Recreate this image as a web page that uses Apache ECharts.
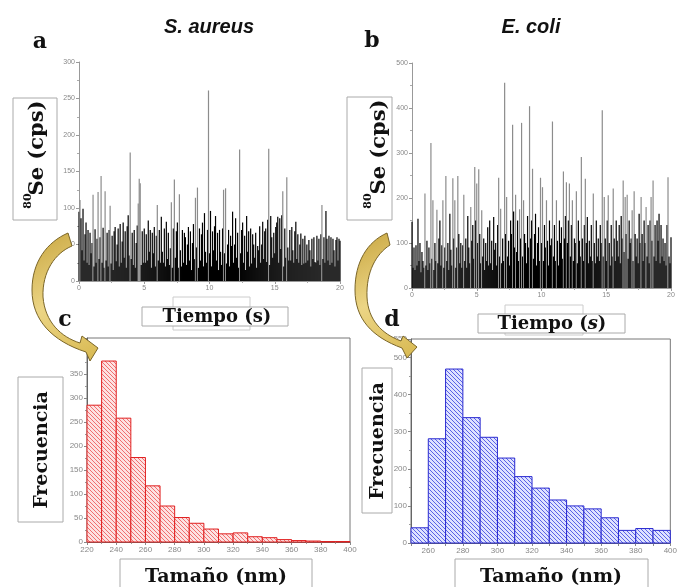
<!DOCTYPE html>
<html><head><meta charset="utf-8">
<script src="https://cdn.jsdelivr.net/npm/echarts@6/dist/echarts.min.js"></script>
<style>html,body{margin:0;padding:0;background:#fff}#c{width:680px;height:587px}</style>
</head><body><div id="c"></div>
<script>
// ---- data ----
const samplesPerSecond = 13;
const seAureus = [
95,111,86,42,99,28,64,80,25,70,22,66,38,
52,118,20,71,25,58,122,30,60,144,25,73,18,
123,28,66,20,70,103,24,62,15,68,74,27,50,
72,20,78,25,54,80,32,68,18,75,90,35,176,
30,66,22,70,18,52,76,106,140,134,22,68,25,
72,25,64,28,83,40,70,18,66,38,74,20,62,
104,28,70,25,88,40,25,72,20,81,30,66,22,
45,108,18,72,139,32,68,80,18,119,42,20,70,
25,66,60,22,50,74,28,68,15,52,78,30,114,
46,128,18,72,28,64,80,20,93,40,25,70,261,
38,96,20,68,42,75,89,28,66,15,70,40,22,
72,125,38,127,24,50,70,20,62,48,95,25,50,
86,32,66,18,180,38,70,80,25,62,15,89,40,
68,20,72,24,64,50,32,66,18,48,42,75,25,
50,81,30,68,72,26,84,181,22,89,60,32,66,
38,74,80,88,25,86,44,90,123,20,72,32,142,
46,28,70,28,74,42,25,68,81,30,64,25,50,
65,22,58,24,62,25,50,28,56,42,20,58,30,
60,26,25,62,28,58,22,64,104,30,60,25,96,
58,28,62,22,60,25,58,42,20,56,60,28,58,
55];
const seColi = [
147,45,90,40,95,50,154,60,100,35,80,60,45,
210,50,105,40,90,55,322,65,195,40,100,60,174,
55,110,150,50,95,195,45,90,249,60,100,40,165,
85,50,244,110,195,45,90,249,120,55,100,45,95,
207,60,110,45,160,90,55,180,105,140,65,269,150,
232,100,264,120,55,173,70,110,40,100,60,135,50,
150,55,105,40,158,85,100,50,140,245,70,176,55,
110,60,456,120,202,70,105,50,150,120,363,170,90,
207,80,150,60,175,110,367,70,195,120,100,55,160,
90,404,110,150,265,65,120,165,50,100,135,60,245,
100,224,60,140,90,195,105,50,150,95,110,370,70,
140,60,195,105,50,150,100,135,65,259,110,160,235,
100,150,232,70,140,195,60,110,100,215,55,150,105,
70,291,110,60,140,243,100,158,55,105,70,140,60,
210,100,55,150,70,110,60,140,100,395,70,202,110,
60,150,206,100,50,140,70,221,110,60,150,105,70,
140,55,160,110,239,80,202,120,207,65,150,100,110,
173,60,215,120,70,110,55,165,100,202,120,60,150,
100,180,70,140,55,150,202,105,239,70,140,60,150,
105,165,55,140,70,110,60,100,50,140,246,70,55,
113];
const binWidth = 10;
const binsAureus = [220,230,240,250,260,270,280,290,300,310,320,330,340,350,360,370,380,390];
const freqAureus = [285,377,258,176,117,75,51,39,27,17,19,11,9,5,3,2,1,1];
const binsColi = [250,260,270,280,290,300,310,320,330,340,350,360,370,380,390];
const freqColi = [41,281,469,338,285,229,179,148,116,100,92,68,34,39,34];
const panelTitles = ['S. aureus','E. coli'];
const panelLetters = ['a','b','c','d'];

// ---- helpers ----
const serif = '"DejaVu Serif","Liberation Serif",serif';
const sans = '"Liberation Sans","DejaVu Sans",sans-serif';
// tall isolated spikes are drawn grey (thin antialiased lines in the original), the rest black
function pts(vals, spike){ return vals.map((v,i)=>({value:[i/samplesPerSecond, v], itemStyle:{color: v>spike ? '#8c8c8c' : '#000'}})); }
function hatch(bg, fg){
  const c=document.createElement('canvas'); c.width=4; c.height=4;
  const g=c.getContext('2d'); g.fillStyle=bg; g.fillRect(0,0,4,4);
  g.strokeStyle=fg; g.lineWidth=1; g.beginPath();
  g.moveTo(0,0); g.lineTo(4,4); g.moveTo(-2,2); g.lineTo(2,6); g.moveTo(2,-2); g.lineTo(6,2);
  g.stroke(); return c;
}
const redHatch = hatch('#fde2e2','#f07070');
const blueHatch = hatch('#dfe2ff','#5a64e6');
const lblStyle = {color:'#888', fontSize:7, fontFamily:sans, margin:4};
const axLine = {lineStyle:{color:'#999', width:1}};
function histRender(pattern, stroke){
  return function(params, api){
    const x0=api.value(0), v=api.value(1);
    const p0=api.coord([x0,v]), p1=api.coord([x0+binWidth,0]);
    return {type:'rect', shape:{x:p0[0], y:p0[1], width:p1[0]-p0[0], height:p1[1]-p0[1]},
      style:{fill:{type:'pattern', image:pattern, repeat:'repeat'}, stroke:stroke, lineWidth:1}};
  };
}
// sample a simple outline (M / L / C commands) into polygon points
function outline(cmds){
  const out=[]; let cx=0, cy=0;
  cmds.forEach(c=>{
    if(c[0]==='M'||c[0]==='L'){ cx=c[1]; cy=c[2]; out.push([cx,cy]); }
    else if(c[0]==='C'){
      const [_,x1,y1,x2,y2,x,y]=c;
      for(let k=1;k<=16;k++){ const t=k/16, u=1-t;
        out.push([u*u*u*cx+3*u*u*t*x1+3*u*t*t*x2+t*t*t*x, u*u*u*cy+3*u*u*t*y1+3*u*t*t*y2+t*t*t*y]); }
      cx=x; cy=y;
    }
  });
  return out;
}
const chart = echarts.init(document.getElementById('c'), null, {renderer:'canvas'});
const tsX = (gi)=>({type:'value', gridIndex:gi, min:0, max:20, interval:5,
  axisLine:axLine, axisTick:{show:true, length:3, lineStyle:{color:'#999'}},
  minorTick:{show:true, splitNumber:2, length:2, lineStyle:{color:'#aaa'}},
  splitLine:{show:false}, axisLabel:Object.assign({}, lblStyle)});
const tsY = (gi,max,iv)=>({type:'value', gridIndex:gi, min:0, max:max, interval:iv,
  axisLine:Object.assign({show:true},axLine), axisTick:{show:true, length:3, lineStyle:{color:'#999'}},
  minorTick:{show:true, splitNumber:2, length:2, lineStyle:{color:'#aaa'}},
  splitLine:{show:false}, axisLabel:Object.assign({}, lblStyle)});

const option = {
  animation:false,
  backgroundColor:'#fff',
  grid:[
    {left:79, top:62, width:261, height:219},
    {left:412, top:63, width:259, height:225},
    {left:87, top:338, width:263, height:204, show:true, borderColor:'#777', borderWidth:1},
    {left:411, top:339, width:265, height:204, show:true, borderColor:'#777', borderWidth:1}
  ],
  xAxis:[
    tsX(0), tsX(1),
    {type:'value', gridIndex:2, min:220, max:400, interval:20, axisLine:{lineStyle:{color:'#666'}},
      axisTick:{length:3, lineStyle:{color:'#888'}}, minorTick:{show:true, splitNumber:2, length:2, lineStyle:{color:'#999'}},
      splitLine:{show:false}, axisLabel:Object.assign({}, lblStyle, {fontSize:8})},
    {type:'value', gridIndex:3, min:250, max:400, interval:10, axisLine:{lineStyle:{color:'#666'}},
      axisTick:{length:3, lineStyle:{color:'#888'}},
      splitLine:{show:false}, axisLabel:Object.assign({}, lblStyle, {fontSize:8, formatter:v=> v%20===0? String(v):''})}
  ],
  yAxis:[
    tsY(0,300,50), tsY(1,500,100),
    {type:'value', gridIndex:2, min:0, max:425, interval:50, axisLine:{show:true, lineStyle:{color:'#666'}},
      axisTick:{show:true, length:3, lineStyle:{color:'#888'}}, minorTick:{show:true, splitNumber:2, length:2, lineStyle:{color:'#999'}},
      splitLine:{show:false}, axisLabel:Object.assign({}, lblStyle, {fontSize:8, formatter:v=> v<=350? String(v):''})},
    {type:'value', gridIndex:3, min:0, max:550, interval:100, axisLine:{show:true, lineStyle:{color:'#666'}},
      axisTick:{show:true, length:3, lineStyle:{color:'#888'}}, minorTick:{show:true, splitNumber:2, length:2, lineStyle:{color:'#999'}},
      splitLine:{show:false}, axisLabel:Object.assign({}, lblStyle, {fontSize:8})}
  ],
  series:[
    {type:'bar', xAxisIndex:0, yAxisIndex:0, data:pts(seAureus,100), barWidth:1.2, silent:true},
    {type:'bar', xAxisIndex:1, yAxisIndex:1, data:pts(seColi,170), barWidth:1.2, silent:true},
    {type:'custom', xAxisIndex:2, yAxisIndex:2, renderItem:histRender(redHatch,'#e02020'),
      data:binsAureus.map((b,i)=>[b,freqAureus[i]]), silent:true},
    {type:'custom', xAxisIndex:3, yAxisIndex:3, renderItem:histRender(blueHatch,'#2a2ad0'),
      data:binsColi.map((b,i)=>[b,freqColi[i]]), silent:true}
  ],
  graphic:[]
};
const G = option.graphic;
function box(x,y,w,h,stroke){ G.push({type:'rect', z:100, shape:{x:x,y:y,width:w,height:h}, style:{fill:'#fff', stroke:stroke||'#aaa', lineWidth:1}}); }
function thinBox(x,y,w,h){ G.push({type:'rect', z:99, shape:{x:x,y:y,width:w,height:h}, style:{fill:'none', stroke:'#ccc', lineWidth:1}}); }
function txt(x,y,text,font,rot,extra){ G.push({type:'text', z:101, x:x, y:y, rotation:rot||0,
  style:Object.assign({text:text, font:font, fill:'#111', align:'center', verticalAlign:'middle', textAlign:'center', textVerticalAlign:'middle'}, extra||{})}); }

// titles and letters
txt(209,27,panelTitles[0],'italic bold 20px '+sans);
txt(531,27,panelTitles[1],'italic bold 20px '+sans);
txt(40,42,panelLetters[0],'bold 22px '+serif);
txt(372,41,panelLetters[1],'bold 22px '+serif);
txt(65,320,panelLetters[2],'bold 22px '+serif);
txt(392,320,panelLetters[3],'bold 22px '+serif);

// y labels of time series
box(13,98,44,122);
txt(38,148,'Se (cps)','bold 21px '+serif,Math.PI/2);
txt(28,201,'80','bold 11px '+serif,Math.PI/2);
box(347,97,45,123);
txt(380,147,'Se (cps)','bold 21px '+serif,Math.PI/2);
txt(368,201,'80','bold 11px '+serif,Math.PI/2);

// x labels of time series
thinBox(173,297,77,33);
box(142,307,146,19);
txt(217,317,'Tiempo (s)','bold 18px '+serif);
thinBox(505,305,78,30);
box(478,314,147,19);
G.push({type:'text', z:101, x:552, y:324, style:{text:'Tiempo ({i|s})', font:'bold 18px '+serif, fill:'#111', align:'center', verticalAlign:'middle', textAlign:'center', textVerticalAlign:'middle',
  rich:{i:{font:'italic bold 18px '+serif, fill:'#111'}}}});

// histogram labels
box(18,377,45,145);
txt(42,450,'Frecuencia','bold 19px '+serif,Math.PI/2);
box(362,368,30,145);
txt(378,441,'Frecuencia','bold 19px '+serif,Math.PI/2);
box(120,559,192,40);
txt(216,577,'Tamaño (nm)','bold 19px '+serif);
box(455,559,193,40);
txt(551,577,'Tamaño (nm)','bold 19px '+serif);

// curved arrows
const gold = {type:'linear', x:0, y:0, x2:1, y2:1, colorStops:[{offset:0,color:'#c8a640'},{offset:0.5,color:'#ecd585'},{offset:1,color:'#d7b850'}]};
const arrowA = outline([['M',68,233],['C',47,242,32,262,32,290],['C',32,320,52,341,86,352],['L',90,361],['L',98,348],['L',82,336],['L',80,343],['C',61,337,45,322,43,297],['C',42,272,55,253,72,246]]);
const arrowB = outline([['M',387,233],['C',367,242,355,262,355,290],['C',355,319,372,337,402,348],['L',407,358],['L',417,347],['L',403,336],['L',401,341],['C',382,334,368,320,367,297],['C',366,272,376,254,390,245]]);
G.push({type:'polygon', z:102, shape:{points:arrowA}, style:{fill:gold, stroke:'#7a6528', lineWidth:1}});
G.push({type:'polygon', z:102, shape:{points:arrowB}, style:{fill:gold, stroke:'#7a6528', lineWidth:1}});

chart.setOption(option);
</script></body></html>
